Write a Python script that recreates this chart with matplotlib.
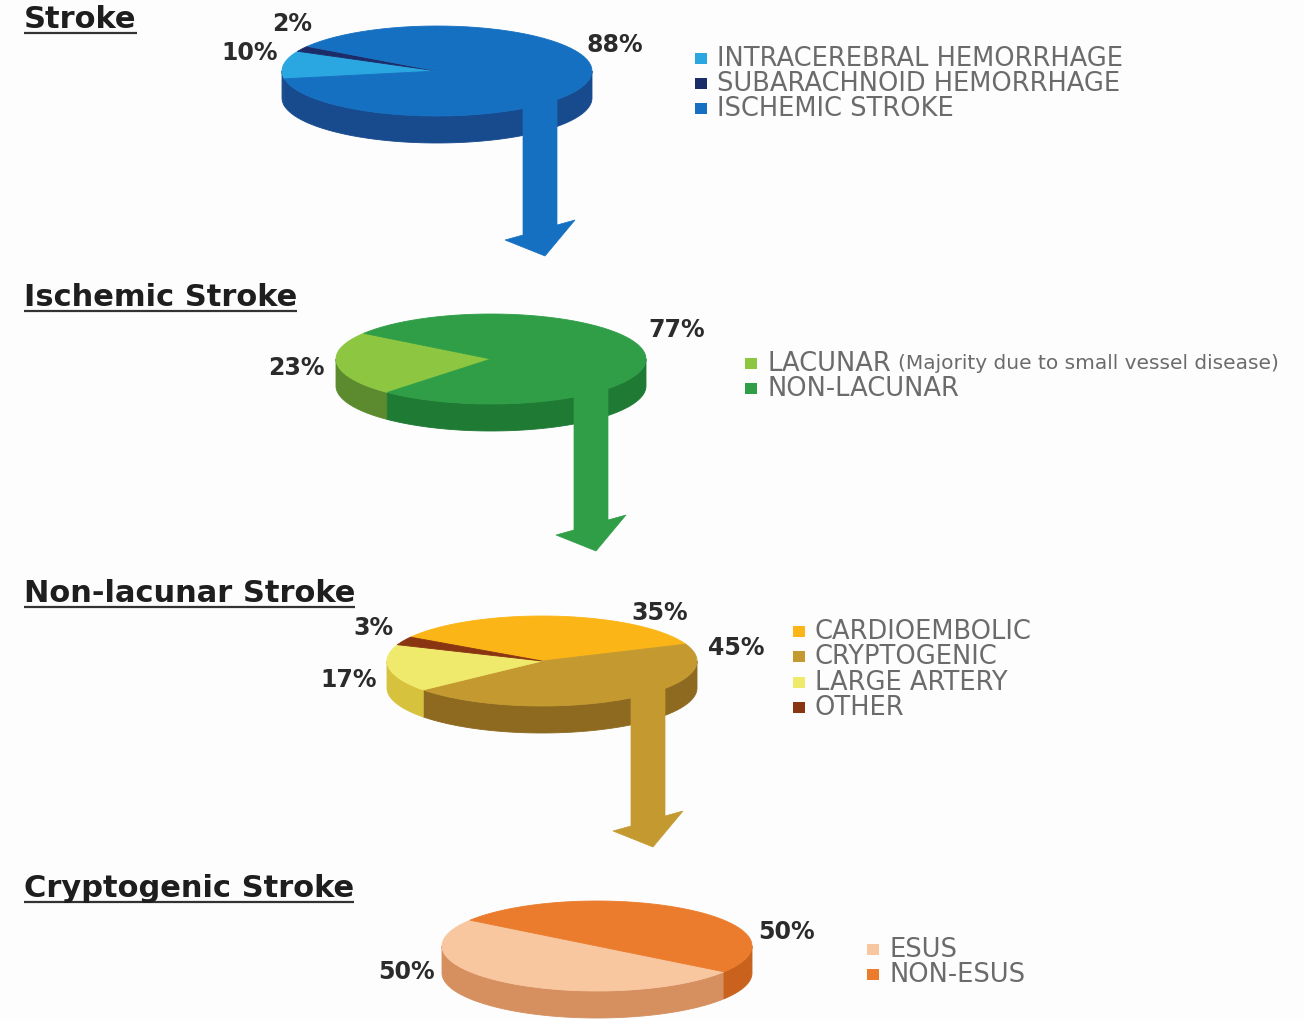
"""
Stroke subtype breakdown: four stacked 3D-style pies linked by arrows.
"""

import matplotlib

matplotlib.use("Agg")
import matplotlib.pyplot as plt
import numpy as np
from matplotlib.patches import Polygon, Rectangle

# ---- data -------------------------------------------------------------
titles = ["Stroke", "Ischemic Stroke", "Non-lacunar Stroke", "Cryptogenic Stroke"]

stroke_labels = ["INTRACEREBRAL HEMORRHAGE", "SUBARACHNOID HEMORRHAGE", "ISCHEMIC STROKE"]
stroke_values = [10, 2, 88]

ischemic_labels = ["LACUNAR", "NON-LACUNAR"]
ischemic_values = [23, 77]

nonlacunar_labels = ["CARDIOEMBOLIC", "CRYPTOGENIC", "LARGE ARTERY", "OTHER"]
nonlacunar_values = [35, 45, 17, 3]

cryptogenic_labels = ["ESUS", "NON-ESUS"]
cryptogenic_values = [50, 50]

# ---- styling ----------------------------------------------------------
W, H = 1304, 1020
TEXT_DARK = "#2b2b2b"
TEXT_GRAY = "#6b6b6b"

pies = [
    {
        "labels": stroke_labels, "values": stroke_values,
        "tops": ["#2aa6e0", "#1b2c68", "#1670c1"],
        "sides": ["#1d4f90", "#14214f", "#184a8e"],
        "center": (437, 72), "start": 190,
        "title_y": 28, "legend_x": 695, "legend_y": 59, "row": 25,
        # label offsets (dx, dy) from pie centre, in legend order
        "pct_pos": [(-187, -19), (-145, -48), (178, -27)],
        "arrow": (540, 257),
    },
    {
        "labels": ischemic_labels, "values": ischemic_values,
        "tops": ["#8dc641", "#2f9e47"],
        "sides": ["#5b8b2e", "#1f7a34"],
        "center": (491, 360), "start": 228,
        "title_y": 306, "legend_x": 745, "legend_y": 364, "row": 25,
        "pct_pos": [(-195, 8), (186, -30)],
        "arrow": (591, 552),
    },
    {
        "labels": nonlacunar_labels, "values": nonlacunar_values,
        "tops": ["#fbb517", "#c49a30", "#f0ea6c", "#8a3511"],
        "sides": ["#c98d10", "#8d6a20", "#d6c23c", "#5e240c"],
        "center": (542, 662), "start": 148,
        "title_y": 602, "legend_x": 793, "legend_y": 632, "row": 25.5,
        "pct_pos": [(118, -49), (194, -14), (-193, 18), (-169, -34)],
        "arrow": (648, 848),
    },
    {
        "labels": cryptogenic_labels, "values": cryptogenic_values,
        "tops": ["#f8c7a0", "#eb7c2e"],
        "sides": ["#d68f5f", "#c8621d"],
        "center": (597, 947), "start": -35,
        "title_y": 897, "legend_x": 867, "legend_y": 950, "row": 25,
        "pct_pos": [(-191, 25), (189, -15)],
        "arrow": None,
    },
]

RX, RY, DEPTH = 155, 45, 27


def ellipse_pts(cx, cy, a0, a1, n=80):
    t = np.radians(np.linspace(a0, a1, n))
    return cx + RX * np.cos(t), cy - RY * np.sin(t)


def draw_pie3d(ax, values, tops, sides, cx, cy, start):
    fracs = np.asarray(values, dtype=float) / sum(values)
    bounds = start - np.concatenate([[0], np.cumsum(fracs)]) * 360

    # front side wall (angles 180..360 face the viewer)
    for i in range(len(values)):
        hi_a, lo_a = bounds[i], bounds[i + 1]
        for k in range(-2, 3):
            lo = max(lo_a, 180 + 360 * k)
            hi = min(hi_a, 360 + 360 * k)
            if hi > lo:
                xs, ys = ellipse_pts(cx, cy, lo, hi)
                poly = np.column_stack([np.r_[xs, xs[::-1]], np.r_[ys, ys[::-1] + DEPTH]])
                ax.add_patch(Polygon(poly, closed=True, fc=sides[i], ec=sides[i], lw=0.6))

    # top face
    for i in range(len(values)):
        xs, ys = ellipse_pts(cx, cy, bounds[i + 1], bounds[i])
        poly = np.column_stack([np.r_[cx, xs], np.r_[cy, ys]])
        ax.add_patch(Polygon(poly, closed=True, fc=tops[i], ec=tops[i], lw=0.6))


def draw_arrow(ax, xc, ytip, y0, color, w=34, barb=18, head=26):
    xl, xr = xc - w / 2, xc + w / 2
    yj = ytip - head
    pts = [
        (xl, y0), (xr, y0), (xr, yj - 5), (xr + barb, yj - 10),
        (xc + 5, ytip), (xl - barb, yj + 10), (xl, yj + 5),
    ]
    ax.add_patch(Polygon(pts, closed=True, fc=color, ec=color, lw=0.5, zorder=3))


fig = plt.figure(figsize=(W / 100, H / 100), dpi=100)
fig.patch.set_facecolor("#fdfdfd")
ax = fig.add_axes([0, 0, 1, 1])
ax.set_xlim(0, W)
ax.set_ylim(H, 0)
ax.axis("off")

renderer = fig.canvas.get_renderer()
inv = ax.transData.inverted()

for title, p in zip(titles, pies):
    cx, cy = p["center"]
    draw_pie3d(ax, p["values"], p["tops"], p["sides"], cx, cy, p["start"])

    # connecting arrow, same colour as the slice it continues
    if p["arrow"] is not None:
        xa, ytip = p["arrow"]
        big = int(np.argmax(p["values"]))
        if title == "Non-lacunar Stroke":
            big = 1  # arrow continues from the cryptogenic slice
        draw_arrow(ax, xa, ytip, cy + 0.55 * RY, p["tops"][big])

    # percentage labels
    for v, (dx, dy) in zip(p["values"], p["pct_pos"]):
        ax.text(cx + dx, cy + dy, f"{v}%", ha="center", va="center",
                fontsize=17, fontweight="bold", color=TEXT_DARK)

    # title with underline
    t = ax.text(24, p["title_y"], title, ha="left", va="baseline",
                fontsize=22, fontweight="bold", color="#1e1e1e")
    bb = t.get_window_extent(renderer)
    (x0, _), (x1, _) = inv.transform([(bb.x0, 0), (bb.x1, 0)])
    ax.plot([x0, x1], [p["title_y"] + 6] * 2, color="#333333", lw=1.6,
            solid_capstyle="butt")

    # legend
    for j, lab in enumerate(p["labels"]):
        ly = p["legend_y"] + j * p["row"]
        ax.add_patch(Rectangle((p["legend_x"], ly - 5.5), 12, 11,
                               fc=p["tops"][j], ec="none"))
        lt = ax.text(p["legend_x"] + 22, ly, lab, ha="left", va="center",
                     fontsize=18.5, color=TEXT_GRAY)
        if lab == "LACUNAR":
            ax.annotate("(Majority due to small vessel disease)", xy=(1, 0.5),
                        xycoords=lt, xytext=(5, 0), textcoords="offset points",
                        ha="left", va="center", fontsize=14.5, color=TEXT_GRAY)

fig.savefig("out.png", dpi=100, facecolor=fig.get_facecolor())
plt.close(fig)
